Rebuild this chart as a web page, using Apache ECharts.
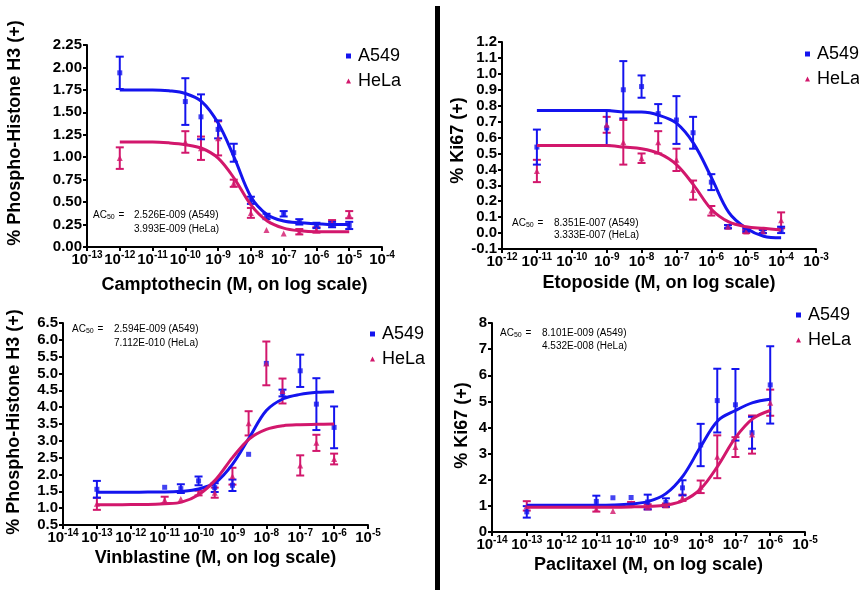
<!DOCTYPE html>
<html><head><meta charset="utf-8">
<script src="https://cdn.jsdelivr.net/npm/echarts@6/dist/echarts.min.js"></script>
<style>html,body{margin:0;padding:0;background:#fff}#c{width:859px;height:590px}</style>
</head><body><div id="c"></div>
<script>
// ---------- DATA (concentrations in M, values in %) ----------
const campDose = [1e-12, 1e-10, 3e-10, 1e-9, 3e-9, 1e-8, 3e-8, 1e-7, 3e-7, 1e-6, 3e-6, 1e-5];
const campA549 = [1.94, 1.62, 1.45, 1.31, 1.05, 0.52, 0.34, 0.37, 0.28, 0.24, 0.25, 0.24];
const campA549Err = [0.18, 0.26, 0.25, 0.10, 0.10, 0.04, 0.03, 0.03, 0.03, 0.03, 0.03, 0.04];
const campHeLa = [0.99, 1.17, 1.10, 1.21, 0.71, 0.38, 0.19, 0.15, 0.17, 0.19, 0.27, 0.36];
const campHeLaErr = [0.12, 0.12, 0.13, 0.19, 0.04, 0.055, 0, 0, 0.03, 0.03, 0.03, 0.04];
const campCurveDose = [1e-12, 3.16e-12, 1e-11, 3.16e-11, 1e-10, 3.16e-10, 1e-9, 3.16e-9, 1e-8, 3.16e-8, 1e-7, 3.16e-7, 1e-6, 3.16e-6, 1e-5];
const campCurveA549 = [1.75, 1.75, 1.75, 1.74, 1.71, 1.62, 1.38, 0.99, 0.56, 0.36, 0.29, 0.27, 0.26, 0.25, 0.25];
const campCurveHeLa = [1.17, 1.17, 1.17, 1.16, 1.14, 1.10, 0.99, 0.76, 0.47, 0.29, 0.21, 0.18, 0.17, 0.17, 0.17];

const etoDose = [1e-11, 1e-9, 3e-9, 1e-8, 3e-8, 1e-7, 3e-7, 1e-6, 3e-6, 1e-5, 3e-5, 1e-4];
const etoA549 = [0.54, 0.66, 0.90, 0.92, 0.75, 0.71, 0.63, 0.32, 0.04, 0.02, 0.01, 0.02];
const etoA549Err = [0.11, 0.11, 0.18, 0.07, 0.06, 0.15, 0.10, 0.05, 0.01, 0.01, 0.01, 0.02];
const etoHeLa = [0.39, 0.68, 0.57, 0.47, 0.57, 0.46, 0.27, 0.14, 0.04, 0.01, 0.01, 0.08];
const etoHeLaErr = [0.07, 0.05, 0.14, 0.03, 0.07, 0.07, 0.06, 0.03, 0.01, 0.01, 0.01, 0.05];
const etoCurveDose = [1e-11, 3.16e-11, 1e-10, 3.16e-10, 1e-9, 3.16e-9, 1e-8, 3.16e-8, 1e-7, 3.16e-7, 1e-6, 3.16e-6, 1e-5, 3.16e-5, 1e-4];
const etoCurveA549 = [0.77, 0.77, 0.77, 0.77, 0.77, 0.76, 0.76, 0.74, 0.69, 0.56, 0.35, 0.13, 0.03, -0.02, -0.03];
const etoCurveHeLa = [0.55, 0.55, 0.55, 0.55, 0.55, 0.54, 0.53, 0.50, 0.43, 0.30, 0.15, 0.07, 0.04, 0.03, 0.02];

const vinDose = [1e-13, 1e-11, 3e-11, 1e-10, 3e-10, 1e-9, 3e-9, 1e-8, 3e-8, 1e-7, 3e-7, 1e-6];
const vinA549 = [1.56, 1.62, 1.58, 1.81, 1.61, 1.68, 2.60, 5.30, 4.42, 5.08, 4.09, 3.40];
const vinA549Err = [0.25, 0, 0.13, 0.13, 0.13, 0.17, 0, 0, 0.10, 0.48, 0.77, 0.62];
const vinHeLa = [1.13, 1.24, 1.27, 1.45, 1.46, 1.95, 3.52, 5.30, 4.48, 2.27, 2.94, 2.46];
const vinHeLaErr = [0.18, 0.10, 0, 0.07, 0.15, 0.25, 0.36, 0.65, 0.37, 0.30, 0.24, 0.16];
const vinCurveDose = [1e-13, 3.16e-13, 1e-12, 3.16e-12, 1e-11, 3.16e-11, 1e-10, 3.16e-10, 1e-9, 3.16e-9, 1e-8, 3.16e-8, 1e-7, 3.16e-7, 1e-6];
const vinCurveA549 = [1.47, 1.47, 1.47, 1.48, 1.48, 1.50, 1.57, 1.76, 2.30, 3.10, 3.90, 4.25, 4.38, 4.44, 4.46];
const vinCurveHeLa = [1.10, 1.10, 1.11, 1.11, 1.13, 1.18, 1.40, 1.84, 2.50, 3.06, 3.34, 3.45, 3.48, 3.49, 3.50];

const pacDose = [1e-13, 1e-11, 3e-11, 1e-10, 3e-10, 1e-9, 3e-9, 1e-8, 3e-8, 1e-7, 3e-7, 1e-6];
const pacA549 = [0.77, 1.17, 1.31, 1.32, 1.15, 1.13, 1.69, 3.33, 5.03, 4.87, 3.80, 5.63];
const pacA549Err = [0.22, 0.22, 0, 0, 0.28, 0.16, 0.29, 0.81, 1.22, 1.37, 0.61, 1.48];
const pacHeLa = [1.00, 0.88, 0.80, 1.10, 0.96, 1.02, 1.31, 1.73, 2.88, 3.25, 3.73, 4.95];
const pacHeLaErr = [0.18, 0.10, 0, 0.05, 0.10, 0.07, 0.12, 0.24, 0.82, 0.38, 0.73, 0.50];
const pacCurveDose = [1e-13, 3.16e-13, 1e-12, 3.16e-12, 1e-11, 3.16e-11, 1e-10, 3.16e-10, 1e-9, 3.16e-9, 1e-8, 3.16e-8, 1e-7, 3.16e-7, 1e-6];
const pacCurveA549 = [1.02, 1.02, 1.02, 1.02, 1.02, 1.03, 1.07, 1.17, 1.47, 2.16, 3.27, 4.27, 4.65, 4.95, 5.08];
const pacCurveHeLa = [0.95, 0.95, 0.95, 0.95, 0.95, 0.95, 0.96, 0.98, 1.03, 1.20, 1.65, 2.54, 3.61, 4.34, 4.65];

const xTitles = ['Camptothecin (M, on log scale)', 'Etoposide (M, on log scale)', 'Vinblastine (M, on log scale)', 'Paclitaxel (M, on log scale)'];
const yTitles = ['% Phospho-Histone H3 (+)', '% Ki67 (+)', '% Phospho-Histone H3 (+)', '% Ki67 (+)'];
const ac50Lines = [
  ['2.526E-009 (A549)', '3.993E-009 (HeLa)'],
  ['8.351E-007 (A549)', '3.333E-007 (HeLa)'],
  ['2.594E-009 (A549)', '7.112E-010 (HeLa)'],
  ['8.101E-009 (A549)', '4.532E-008 (HeLa)']
];
const seriesNames = ['A549', 'HeLa'];

// ---------- LAYOUT / STYLE ----------
const FONT = "'Liberation Sans', Arial, Helvetica, sans-serif";
const BLUE = '#1414ee';
const PINK = '#d2176c';
const panels = [
  {doses: campDose, a: campA549, ae: campA549Err, h: campHeLa, he: campHeLaErr, cd: campCurveDose, ca: campCurveA549, ch: campCurveHeLa,
   grid: {left: 87, top: 45, width: 295, height: 202}, x: [-13, -4], y: [0, 2.25, 0.25, 2], nameGap: 29, yNameGap: 63, yPad: 26,
   legend: {left: 346, top: 47}, ac: {lx: 93, vx: 134, y1: 215, y2: 229}},
  {doses: etoDose, a: etoA549, ae: etoA549Err, h: etoHeLa, he: etoHeLaErr, cd: etoCurveDose, ca: etoCurveA549, ch: etoCurveHeLa,
   grid: {left: 502, top: 42, width: 314, height: 207}, x: [-12, -3], y: [-0.1, 1.2, 0.1, 1], nameGap: 25, yNameGap: 31, yPad: 10,
   legend: {left: 805, top: 45}, ac: {lx: 512, vx: 554, y1: 223, y2: 235}},
  {doses: vinDose, a: vinA549, ae: vinA549Err, h: vinHeLa, he: vinHeLaErr, cd: vinCurveDose, ca: vinCurveA549, ch: vinCurveHeLa,
   grid: {left: 63, top: 323, width: 305, height: 202}, x: [-14, -5], y: [0.5, 6.5, 0.5, 1], nameGap: 24, yNameGap: 40, yPad: 4,
   legend: {left: 370, top: 325}, ac: {lx: 72, vx: 114, y1: 329, y2: 343}},
  {doses: pacDose, a: pacA549, ae: pacA549Err, h: pacHeLa, he: pacHeLaErr, cd: pacCurveDose, ca: pacCurveA549, ch: pacCurveHeLa,
   grid: {left: 492, top: 323, width: 313, height: 209}, x: [-14, -5], y: [0, 8, 1, 0], nameGap: 24, yNameGap: 21, yPad: 4,
   legend: {left: 796, top: 306}, ac: {lx: 500, vx: 542, y1: 333, y2: 346}}
];

const lg = v => Math.log10(v);
const grids = [], xAxes = [], yAxes = [], series = [], legends = [], graphics = [];

function errRender(color) {
  return function (params, api) {
    const x = api.value(0), lo = api.value(1), hi = api.value(2);
    const p1 = api.coord([x, hi]), p2 = api.coord([x, lo]);
    const w = 4;
    const st = {stroke: color, lineWidth: 2};
    return {type: 'group', children: [
      {type: 'line', shape: {x1: p1[0], y1: p1[1], x2: p2[0], y2: p2[1]}, style: st},
      {type: 'line', shape: {x1: p1[0] - w, y1: p1[1], x2: p1[0] + w, y2: p1[1]}, style: st},
      {type: 'line', shape: {x1: p2[0] - w, y1: p2[1], x2: p2[0] + w, y2: p2[1]}, style: st}
    ]};
  };
}

panels.forEach((p, i) => {
  grids.push(Object.assign({containLabel: false}, p.grid));
  xAxes.push({
    gridIndex: i, type: 'value', min: p.x[0], max: p.x[1], interval: 1,
    name: xTitles[i], nameLocation: 'middle', nameGap: p.nameGap,
    nameTextStyle: {fontFamily: FONT, fontWeight: 'bold', fontSize: 18, color: '#000'},
    axisLine: {onZero: false, lineStyle: {color: '#000', width: 2}},
    axisTick: {show: true, length: 4, lineStyle: {color: '#000', width: 2}},
    splitLine: {show: false},
    axisLabel: {
      margin: 3, interval: 0, showMinLabel: true, showMaxLabel: true, hideOverlap: false,
      formatter: v => '{b|10}{s|' + Math.round(v) + '}',
      rich: {
        b: {fontFamily: FONT, fontWeight: 'bold', fontSize: 15, color: '#000', lineHeight: 17, verticalAlign: 'bottom'},
        s: {fontFamily: FONT, fontWeight: 'bold', fontSize: 10, color: '#000', lineHeight: 11, verticalAlign: 'top'}
      }
    }
  });
  yAxes.push({
    gridIndex: i, type: 'value', min: p.y[0], max: p.y[1], interval: p.y[2],
    name: yTitles[i], nameLocation: 'middle', nameGap: p.yNameGap, nameRotate: 90,
    nameTextStyle: {fontFamily: FONT, fontWeight: 'bold', fontSize: 18, color: '#000', padding: [0, 0, 0, p.yPad]},
    axisLine: {show: true, onZero: false, lineStyle: {color: '#000', width: 2}},
    axisTick: {show: true, length: 4, lineStyle: {color: '#000', width: 2}},
    splitLine: {show: false},
    axisLabel: {
      margin: 5, fontFamily: FONT, fontWeight: 'bold', fontSize: 15, color: '#000',
      showMinLabel: true, showMaxLabel: true,
      formatter: v => (Math.abs(v) < 1e-9 ? 0 : v).toFixed(p.y[3])
    }
  });
  const groups = [
    {name: seriesNames[0], color: BLUE, sym: 'rect', size: 5, vals: p.a, errs: p.ae, curve: p.ca},
    {name: seriesNames[1], color: PINK, sym: 'triangle', size: 6, vals: p.h, errs: p.he, curve: p.ch}
  ];
  groups.slice().reverse().forEach(g => {
    series.push({
      type: 'custom', name: g.name, xAxisIndex: i, yAxisIndex: i, z: 2, silent: true,
      renderItem: errRender(g.color), encode: {x: 0, y: [1, 2]},
      data: p.doses.map((d, k) => [lg(d), g.vals[k] - g.errs[k], g.vals[k] + g.errs[k]]).filter((r, k) => g.errs[k] > 0)
    });
  });
  groups.forEach(g => {
    series.push({
      type: 'scatter', name: g.name, xAxisIndex: i, yAxisIndex: i, z: 3,
      symbol: g.sym, symbolSize: g.size, itemStyle: {color: g.color},
      data: p.doses.map((d, k) => [lg(d), g.vals[k]])
    });
  });
  groups.forEach(g => {
    series.push({
      type: 'line', name: g.name, xAxisIndex: i, yAxisIndex: i, z: 4,
      showSymbol: false, smooth: 0.35, lineStyle: {color: g.color, width: 3}, itemStyle: {color: g.color},
      data: p.cd.map((d, k) => [lg(d), g.curve[k]])
    });
  });
  legends.push({
    orient: 'vertical', left: p.legend.left, top: p.legend.top, padding: 0, itemWidth: 5, itemHeight: 5, itemGap: 7,
    selectedMode: false,
    textStyle: {fontFamily: FONT, fontSize: 18, color: '#000', padding: [0, 0, 0, 2]},
    data: [
      {name: seriesNames[0], icon: 'rect', itemStyle: {color: BLUE}},
      {name: seriesNames[1], icon: 'triangle', itemStyle: {color: PINK}}
    ]
  });
  graphics.push({
    type: 'text', x: p.ac.lx, y: p.ac.y1, z: 10,
    style: {text: 'AC{s|50} =', fontFamily: FONT, fontSize: 10, fill: '#000', verticalAlign: 'middle', align: 'left',
      rich: {s: {fontFamily: FONT, fontSize: 7, fill: '#000', padding: [5, 1, 0, 0]}}}
  });
  graphics.push({type: 'text', x: p.ac.vx, y: p.ac.y1, z: 10,
    style: {text: ac50Lines[i][0], fontFamily: FONT, fontSize: 10, fill: '#000', verticalAlign: 'middle', align: 'left'}});
  graphics.push({type: 'text', x: p.ac.vx, y: p.ac.y2, z: 10,
    style: {text: ac50Lines[i][1], fontFamily: FONT, fontSize: 10, fill: '#000', verticalAlign: 'middle', align: 'left'}});
});

graphics.push({type: 'rect', z: 20, shape: {x: 435, y: 6, width: 5, height: 590}, style: {fill: '#000'}});

const chart = echarts.init(document.getElementById('c'), null, {renderer: 'canvas'});
chart.setOption({
  animation: false,
  backgroundColor: '#fff',
  grid: grids, xAxis: xAxes, yAxis: yAxes, series: series, legend: legends, graphic: graphics
});
</script></body></html>
